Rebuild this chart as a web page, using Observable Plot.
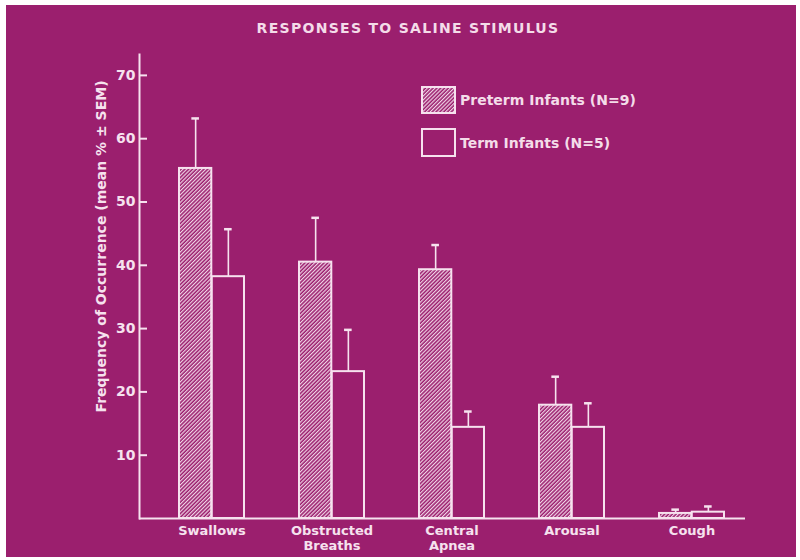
<!DOCTYPE html>
<html><head><meta charset="utf-8">
<script src="https://cdn.jsdelivr.net/npm/d3@7"></script>
<script src="https://cdn.jsdelivr.net/npm/@observablehq/plot@0.6"></script>
<style>
html,body{margin:0;padding:0;background:#fff;}
#wrap{position:relative;width:800px;height:560px;overflow:hidden;font-family:"DejaVu Sans",sans-serif;color:#f4dce9;}
#bg{position:absolute;left:6px;top:5px;width:790px;height:552px;background:#9b1f6e;}
#chart{position:absolute;left:0;top:0;}
#chart svg text{font-weight:bold;}
#title{position:absolute;left:0;width:816px;top:21px;line-height:14px;text-align:center;font-size:14px;font-weight:bold;letter-spacing:1.3px;}
.leg{position:absolute;left:421px;display:flex;align-items:center;font-size:14px;font-weight:bold;}
.leg svg{display:block;margin-right:4px;}
</style></head>
<body>
<div id="wrap">
  <div id="bg"></div>
  <div id="chart"></div>
  <div id="title">RESPONSES TO SALINE STIMULUS</div>
  <div class="leg" style="top:86px"><svg width="35" height="28"><defs><pattern id="hatchL" patternUnits="userSpaceOnUse" width="2.7" height="2.7" patternTransform="rotate(45)"><line x1="0.6" y1="0" x2="0.6" y2="2.7" stroke="#f6e2ee" stroke-width="1.1"/></pattern></defs><rect x="1" y="1" width="33" height="26" fill="url(#hatchL)" stroke="#f6e2ee" stroke-width="2"/></svg><span>Preterm Infants (N=9)</span></div>
  <div class="leg" style="top:128px"><svg width="35" height="29"><rect x="1" y="1" width="33" height="27" fill="none" stroke="#f6e2ee" stroke-width="2"/></svg><span>Term Infants (N=5)</span></div>
</div>
<script>
const categories = ["Swallows", "Obstructed\nBreaths", "Central\nApnea", "Arousal", "Cough"];
const preterm = [55.3, 40.5, 39.3, 17.9, 0.8];
const pretermSem = [7.9, 7.0, 3.9, 4.5, 0.6];
const term = [38.2, 23.2, 14.4, 14.4, 1.0];
const termSem = [7.5, 6.6, 2.5, 3.8, 0.9];
const yTicks = [10, 20, 30, 40, 50, 60, 70];
const yLabel = "Frequency of Occurrence (mean % \u00b1 SEM)";

const INK = "#f6e2ee";
const rows = categories.map((c, i) => ({
  group: c, preterm: preterm[i], pTop: preterm[i] + pretermSem[i],
  term: term[i], tTop: term[i] + termSem[i]
}));

const half = 32.7;
const chart = Plot.plot({
  width: 800, height: 560,
  marginLeft: 139, marginRight: 55, marginTop: 54, marginBottom: 42,
  style: {background: "transparent", color: INK, fontFamily: "DejaVu Sans, sans-serif", fontSize: "14px", overflow: "visible"},
  x: {domain: categories, paddingInner: 0.456, paddingOuter: 0.245, align: 0.656},
  y: {domain: [0, 73.3]},
  marks: [
    Plot.frame({anchor: "left", stroke: INK, strokeWidth: 2}),
    Plot.ruleY([0], {stroke: INK, strokeWidth: 2}),
    Plot.tickY(yTicks, {y: d => d, insetRight: 598, stroke: INK, strokeWidth: 2}),
    Plot.axisY({ticks: yTicks, tickSize: 0, tickPadding: 4, label: null, fontSize: 14, fill: INK}),
    Plot.axisX({tickSize: 0, tickPadding: 5, label: null, fontSize: 13, fill: INK, lineHeight: 1.2}),
    Plot.barY(rows, {x: "group", y: "preterm", fill: "url(#hatch)", stroke: INK, strokeWidth: 2, insetRight: half}),
    Plot.barY(rows, {x: "group", y: "term", fill: "none", stroke: INK, strokeWidth: 2, insetLeft: half}),
    Plot.ruleX(rows, {x: "group", y1: "preterm", y2: "pTop", dx: -half / 2, stroke: INK, strokeWidth: 1.6}),
    Plot.ruleX(rows, {x: "group", y1: "term", y2: "tTop", dx: half / 2, stroke: INK, strokeWidth: 1.6}),
    Plot.tickY(rows, {x: "group", y: "pTop", insetLeft: half / 2 - 4, insetRight: 2 * half - (half / 2 + 4), stroke: INK, strokeWidth: 2.5}),
    Plot.tickY(rows, {x: "group", y: "tTop", insetLeft: 2 * half - (half / 2 + 4), insetRight: half / 2 - 4, stroke: INK, strokeWidth: 2.5}),
    Plot.text([yLabel], {frameAnchor: "left", textAnchor: "middle", rotate: -90, dx: -38, dy: -40, fontSize: 14, fill: INK})
  ]
});
d3.select(chart).insert("defs", ":first-child").html(
  '<pattern id="hatch" patternUnits="userSpaceOnUse" width="2.7" height="2.7" patternTransform="rotate(45)"><line x1="0.6" y1="0" x2="0.6" y2="2.7" stroke="' + INK + '" stroke-width="1.1"/></pattern>'
);
document.getElementById("chart").appendChild(chart);
</script>
</body></html>
